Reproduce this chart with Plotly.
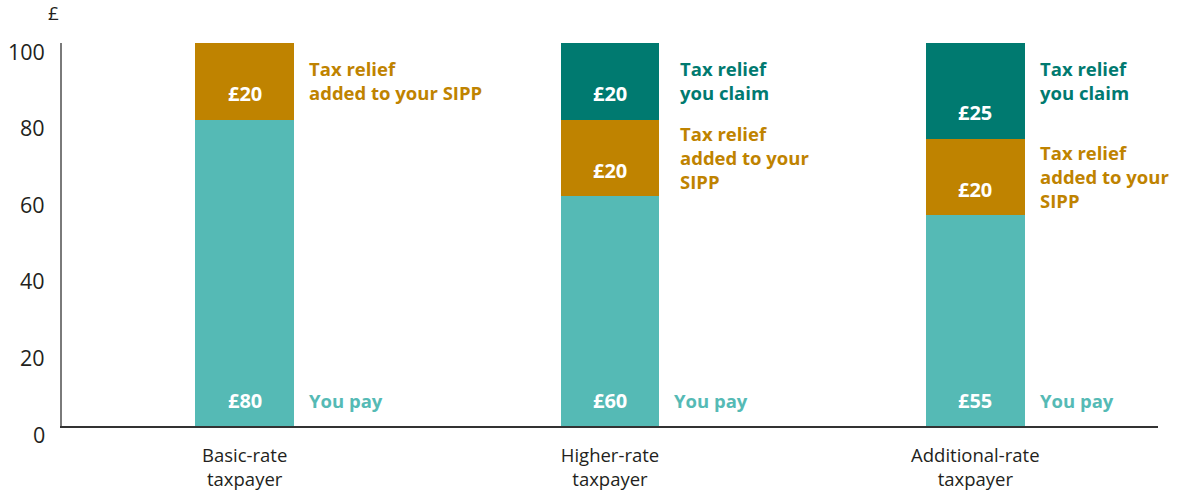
import plotly.graph_objects as go

categories = ["Basic-rate<br>taxpayer", "Higher-rate<br>taxpayer", "Additional-rate<br>taxpayer"]
you_pay = [80, 60, 55]
relief_added = [20, 20, 20]
relief_claim = [0, 20, 25]
y_ticks = [0, 20, 40, 60, 80, 100]

TEAL = "#55bab5"
GOLD = "#bf8300"
DARK = "#007a70"
FONT = "Open Sans"

x = list(range(len(categories)))
BW = 0.27

fig = go.Figure()
fig.add_bar(x=x, y=you_pay, marker_color=TEAL, width=BW, marker_line_width=0)
fig.add_bar(x=x, y=relief_added, marker_color=GOLD, width=BW, marker_line_width=0)
fig.add_bar(x=x, y=relief_claim, marker_color=DARK, width=BW, marker_line_width=0)

ann = []
for i in x:
    segs = [(0, you_pay[i], TEAL, "You pay"),
            (you_pay[i], relief_added[i], GOLD, "Tax relief<br>added to your SIPP" if i == 0 else "Tax relief<br>added to your<br>SIPP"),
            (you_pay[i] + relief_added[i], relief_claim[i], DARK, "Tax relief<br>you claim")]
    for base, val, col, side in segs:
        if val <= 0:
            continue
        top = base + val
        ann.append(dict(x=i, y=base, xref="x", yref="y", text=f"<b>£{val}</b>",
                        showarrow=False, yanchor="middle", yshift=26,
                        font=dict(family=FONT, size=20, color="white")))
        if base == 0:
            ann.append(dict(x=i + BW / 2, y=base, xref="x", yref="y", text=f"<b>{side}</b>",
                            showarrow=False, xanchor="left", yanchor="middle", yshift=26, xshift=13,
                            font=dict(family=FONT, size=18.5, color=col)))
        else:
            ann.append(dict(x=i + BW / 2, y=top, xref="x", yref="y", text=f"<b>{side}</b>",
                            showarrow=False, xanchor="left", yanchor="top", align="left",
                            yshift=-11 if top >= 100 else 1, xshift=19 if i == 1 else 13,
                            font=dict(family=FONT, size=18.5, color=col)))

for v in y_ticks:
    ann.append(dict(x=0, y=v, xref="paper", yref="y", text=str(v), showarrow=False,
                    xanchor="right", yanchor="middle", xshift=-15, yshift=-8,
                    font=dict(family=FONT, size=21.5, color="#231f20")))
ann.append(dict(x=0, y=100, xref="paper", yref="y", text="£", showarrow=False,
                xanchor="center", yanchor="middle", xshift=-9, yshift=30,
                font=dict(family=FONT, size=19, color="#231f20")))

fig.update_layout(
    barmode="stack",
    width=1200, height=496,
    margin=dict(l=62, r=42, t=43, b=70),
    plot_bgcolor="white", paper_bgcolor="white",
    showlegend=False,
    annotations=ann,
    font=dict(family=FONT, color="#231f20"),
    xaxis=dict(range=[-0.5, 2.5], tickvals=x, ticktext=categories, showgrid=False,
               zeroline=False, showline=True, linecolor="#333333", linewidth=1.5,
               ticks="", tickfont=dict(family=FONT, size=18.5, color="#231f20"),
               ticklabelstandoff=12, automargin=False, fixedrange=True),
    yaxis=dict(range=[0, 100], showticklabels=False, showgrid=False, zeroline=False,
               showline=True, linecolor="#7a7a7a", linewidth=1.5, ticks="",
               automargin=False, fixedrange=True),
)

fig.write_html("out.html", config={"displayModeBar": False},
               post_script="document.body.style.margin='0';")
